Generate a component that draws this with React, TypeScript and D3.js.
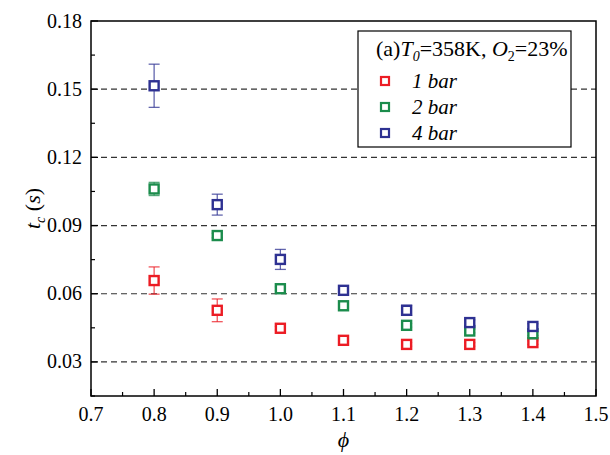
import React from "react";
import * as d3 from "d3";

const phi = [0.8, 0.9, 1.0, 1.1, 1.2, 1.3, 1.4];
const bar1 = [0.0658, 0.0527, 0.0448, 0.0395, 0.0377, 0.0377, 0.0385];
const bar1Err = [0.006, 0.005, 0.0008, 0.0008, 0.0008, 0.0008, 0.0008];
const bar2 = [0.1061, 0.0856, 0.0622, 0.0547, 0.0461, 0.0436, 0.0424];
const bar2Err = [0.0029, 0.001, 0.0008, 0.0008, 0.0008, 0.0008, 0.0008];
const bar4 = [0.1515, 0.0992, 0.0751, 0.0615, 0.0527, 0.0473, 0.0456];
const bar4Err = [0.0095, 0.0046, 0.0044, 0.001, 0.0022, 0.0012, 0.0012];

const xTicks = [0.7, 0.8, 0.9, 1.0, 1.1, 1.2, 1.3, 1.4, 1.5];
const yTicks = [0.03, 0.06, 0.09, 0.12, 0.15, 0.18];
const seriesNames = ["1 bar", "2 bar", "4 bar"];
const seriesColors = ["#ec1c24", "#1b8c4c", "#2e3192"];

const W = 610, H = 455;
const L = 91, R = 596, T = 21, B = 396;
const FONT = "'Liberation Serif', 'Times New Roman', Times, serif";

export default function App() {
  const x = d3.scaleLinear().domain([0.7, 1.5]).range([L, R]);
  const y = d3.scaleLinear().domain([0.015, 0.18]).range([B, T]);
  const series = [
    { v: bar1, e: bar1Err },
    { v: bar2, e: bar2Err },
    { v: bar4, e: bar4Err },
  ];
  const xMinor = d3.range(0.75, 1.5, 0.1);
  const yMinor = d3.range(0.015, 0.18, 0.03);
  const ms = 9;
  const ts = { fontFamily: FONT } as React.CSSProperties;
  return (
    <svg width={W} height={H} style={{ position: "absolute", left: 0, top: 0, background: "#fff", fontFamily: FONT }}>
      <rect x={0} y={0} width={W} height={H} fill="#fff" />
      {yTicks.filter((t) => t < 0.18).map((t) => (
        <line key={"g" + t} x1={L} x2={R} y1={y(t)} y2={y(t)} stroke="#333" strokeWidth={1.2} strokeDasharray="6,4" />
      ))}
      {series.map((s, si) => (
        <g key={si}>
          {phi.map((p, i) => {
            const cx = x(p), cy = y(s.v[i]);
            const top = y(s.v[i] + s.e[i]), bot = y(s.v[i] - s.e[i]);
            const col = seriesColors[si];
            return (
              <g key={i}>
                <line x1={cx} x2={cx} y1={top} y2={bot} stroke={col} strokeOpacity={0.75} strokeWidth={1.3} />
                <line x1={cx - 5.5} x2={cx + 5.5} y1={top} y2={top} stroke={col} strokeOpacity={0.75} strokeWidth={1.3} />
                <line x1={cx - 5.5} x2={cx + 5.5} y1={bot} y2={bot} stroke={col} strokeOpacity={0.75} strokeWidth={1.3} />
                <rect x={cx - ms / 2} y={cy - ms / 2} width={ms} height={ms} fill="#fff" stroke={col} strokeWidth={2.4} />
              </g>
            );
          })}
        </g>
      ))}
      <rect x={L} y={T} width={R - L} height={B - T} fill="none" stroke="#000" strokeWidth={1.5} />
      {xTicks.map((t) => (
        <g key={"x" + t}>
          <line x1={x(t)} x2={x(t)} y1={B} y2={B - 7} stroke="#000" strokeWidth={1.3} />
          <text style={ts} x={x(t)} y={421} textAnchor="middle" fontSize={20}>{t.toFixed(1)}</text>
        </g>
      ))}
      {xMinor.map((t) => (
        <line key={"xm" + t} x1={x(t)} x2={x(t)} y1={B} y2={B - 4} stroke="#000" strokeWidth={1.2} />
      ))}
      {yTicks.map((t) => (
        <g key={"y" + t}>
          <line x1={L} x2={L + 7} y1={y(t)} y2={y(t)} stroke="#000" strokeWidth={1.3} />
          <text style={ts} x={82} y={y(t) + 6.5} textAnchor="end" fontSize={20}>{t.toFixed(2)}</text>
        </g>
      ))}
      {yMinor.map((t) => (
        <line key={"ym" + t} x1={L} x2={L + 4} y1={y(t)} y2={y(t)} stroke="#000" strokeWidth={1.2} />
      ))}
      <text style={ts} x={(L + R) / 2} y={447} textAnchor="middle" fontSize={22} fontStyle="italic">ϕ</text>
      <text style={ts} transform={`translate(40, ${(T + B) / 2}) rotate(-90)`} textAnchor="middle" fontSize={22}>
        <tspan fontStyle="italic">t</tspan>
        <tspan fontStyle="italic" fontSize={14} dy={5}>c</tspan>
        <tspan dy={-5}> (</tspan>
        <tspan fontStyle="italic">s</tspan>
        <tspan>)</tspan>
      </text>
      <rect x={358} y={31} width={213} height={116} fill="#fff" stroke="#000" strokeWidth={1.2} />
      <text style={ts} x={376} y={56} fontSize={22}>
        <tspan>(a)</tspan>
        <tspan fontStyle="italic">T</tspan>
        <tspan fontStyle="italic" fontSize={14} dy={5}>0</tspan>
        <tspan dy={-5}>=358K, </tspan>
        <tspan fontStyle="italic">O</tspan>
        <tspan fontSize={14} dy={5}>2</tspan>
        <tspan dy={-5}>=23%</tspan>
      </text>
      {seriesNames.map((n, i) => {
        const ly = 81 + i * 26;
        return (
          <g key={n}>
            <rect x={385 - 4} y={ly - 4} width={8} height={8} fill="#fff" stroke={seriesColors[i]} strokeWidth={2.2} />
            <text style={ts} x={412} y={ly + 7} fontSize={21} fontStyle="italic">{n}</text>
          </g>
        );
      })}
    </svg>
  );
}
